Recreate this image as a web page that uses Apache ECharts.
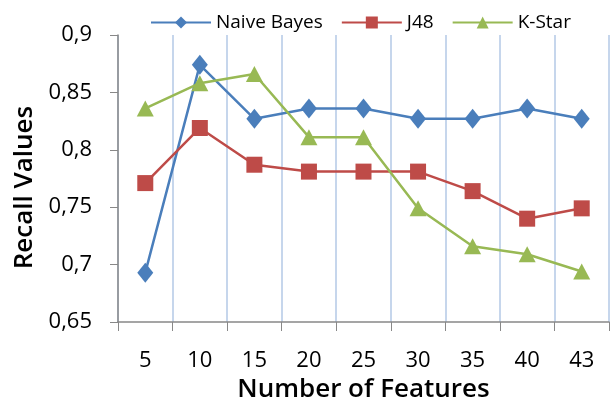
<!DOCTYPE html>
<html><head><meta charset="utf-8">
<script src="https://cdn.jsdelivr.net/npm/echarts@6/dist/echarts.min.js"></script>
<style>html,body{margin:0;padding:0;background:#fff}#c{width:611px;height:403px}</style>
</head><body><div id="c"></div>
<script>
const categories = ['5','10','15','20','25','30','35','40','43'];
const naiveBayes = [0.693, 0.874, 0.827, 0.836, 0.836, 0.827, 0.827, 0.836, 0.827];
const j48 = [0.771, 0.819, 0.787, 0.781, 0.781, 0.781, 0.764, 0.740, 0.749];
const kStar = [0.836, 0.858, 0.866, 0.811, 0.811, 0.749, 0.716, 0.709, 0.694];
const yTicks = {min: 0.65, max: 0.9, step: 0.05};

const font = 'Open Sans';
const chart = echarts.init(document.getElementById('c'));
function s(name, data, color, symbol, size){
  return {name, type:'line', data, symbol, symbolSize:size, itemStyle:{color},
    lineStyle:{color, width:2.5}};
}
chart.setOption({
  animation:false,
  textStyle:{fontFamily:font},
  legend:{top:8, left:145, itemWidth:60, itemHeight:15, itemGap:18,
    textStyle:{fontSize:19, color:'#000', fontFamily:font},
    data:['Naive Bayes','J48','K-Star']},
  grid:{left:118, right:2, top:35, bottom:81, outerBoundsMode:'none', containLabel:false},
  xAxis:{type:'category', data:categories, boundaryGap:true,
    name:'Number of Features', nameLocation:'middle', nameGap:49,
    nameTextStyle:{fontSize:26, fontWeight:600, color:'#000'},
    axisLine:{lineStyle:{color:'#888', width:1.5}},
    axisTick:{show:true, length:9, lineStyle:{color:'#888'}},
    axisLabel:{fontSize:22, fontWeight:500, color:'#000', margin:28},
    splitLine:{show:true, lineStyle:{color:'#c6d6ec', width:2}}},
  yAxis:{type:'value', min:yTicks.min, max:yTicks.max, interval:yTicks.step,
    name:'Recall Values', nameLocation:'middle', nameGap:79,
    nameTextStyle:{fontSize:26, fontWeight:600, color:'#000', padding:[0,18,0,0]},
    axisLine:{show:true, lineStyle:{color:'#888', width:1.5}},
    axisTick:{show:true, length:8, lineStyle:{color:'#888'}},
    axisLabel:{fontSize:22, fontWeight:500, color:'#000', margin:26,
      formatter:v=>String(+v.toFixed(2)).replace('.',',')},
    splitLine:{show:false}},
  series:[
    s('Naive Bayes', naiveBayes, '#4a7ebb', 'diamond', [16,20]),
    s('J48', j48, '#be4b48', 'rect', 16),
    s('K-Star', kStar, '#98b954', 'triangle', [17,16])
  ]
});
</script></body></html>
